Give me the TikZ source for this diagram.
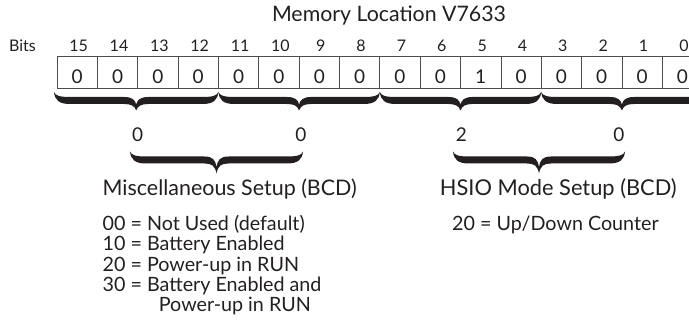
\documentclass[tikz,border=0pt]{standalone}
\usepackage{fontspec}
\setmainfont{Lato}
\usetikzlibrary{calc}
\definecolor{ink}{HTML}{231F20}
\newsavebox\measbox
% #1 left coordinate, #2 right coordinate, #3 depth of tip (pt)
\newcommand\cbrace[3]{%
\fill[ink] let \p1=(#1), \p2=(#2), \p3=($(#1)!0.5!(#2)$) in
 (\x1,\y1) .. controls (\x1+1.5pt,\y1-3.5pt) and (\x1+5pt,\y1-5pt) .. (\x1+16pt,\y1-5pt)
 -- (\x3-12pt,\y1-5pt) .. controls (\x3-4pt,\y1-5pt) and (\x3-1pt,\y1-8pt) .. (\x3,\y1-#3pt+6pt)
 .. controls (\x3+1pt,\y1-8pt) and (\x3+4pt,\y1-5pt) .. (\x3+12pt,\y1-5pt)
 -- (\x2-16pt,\y1-5pt) .. controls (\x2-5pt,\y1-5pt) and (\x2-1.5pt,\y1-3.5pt) .. (\x2,\y1)
 .. controls (\x2-0.8pt,\y1-8pt) and (\x2-5pt,\y1-12pt) .. (\x2-16pt,\y1-12pt)
 -- (\x3+12pt,\y1-12pt) .. controls (\x3+5pt,\y1-12pt) and (\x3+1.5pt,\y1-14pt) .. (\x3,\y1-#3pt)
 .. controls (\x3-1.5pt,\y1-14pt) and (\x3-5pt,\y1-12pt) .. (\x3-12pt,\y1-12pt)
 -- (\x1+16pt,\y1-12pt) .. controls (\x1+5pt,\y1-12pt) and (\x1+0.8pt,\y1-8pt) .. (\x1,\y1) -- cycle;
}
\begin{document}
% size of list text so that the first line is 202 pt wide
\sbox\measbox{\fontsize{10}{12}\selectfont 00 = Not Used (default)}%
\pgfmathsetmacro\listsize{10*202/\the\wd\measbox}%
\begin{tikzpicture}[x=1pt,y=-1pt,
  cell/.style={draw=black!70, line width=0.7pt, minimum width=40.35pt, minimum height=31.6pt, inner sep=0pt},
  celltxt/.style={anchor=base, text=ink, font=\fontsize{19}{20}\selectfont, inner sep=0pt},
  bitno/.style={anchor=base, text=ink, font=\fontsize{16}{18}\selectfont, inner sep=0pt},
  txt/.style={anchor=base, text=ink, font=\fontsize{20}{22}\selectfont, inner sep=0pt},
  listtxt/.style={anchor=base west, text=ink, font=\fontsize{\listsize}{20}\selectfont, inner sep=0pt},
]
\useasboundingbox (0,0) rectangle (689,326);
\clip (0,0) rectangle (689,326);
% title
\node[txt] (title) at (389,21.7) {\resizebox{234pt}{!}{Memory Location V7633}};
\node[bitno] (bits) at (22.5,51.7) {Bits};
% cells
\foreach \i in {0,...,15}{
  \pgfmathtruncatemacro{\b}{15-\i}
  \pgfmathsetmacro{\cx}{57+40.35*\i+20.175}
  \ifnum\b=5 \def\val{1}\else\def\val{0}\fi
  \node[cell] (c\b) at (\cx,72.6) {};
  \node[celltxt] (d\b) at (\cx,83.3) {\val};
  \node[bitno] (n\b) at (\cx+1.5,51.7) {\b};
}
% first-level braces
\coordinate (k0) at (54,92);
\foreach \k in {1,...,4}{
  \coordinate (k\k) at (57+161.4*\k,92);
}
\cbrace{k0}{k1}{18.5}
\cbrace{k1}{k2}{18.5}
\cbrace{k2}{k3}{18.5}
\cbrace{k3}{k4}{18.5}
% nibble digits
\node[celltxt] (g3) at (137.7,141.7) {0};
\node[celltxt] (g2) at (301.0,141.7) {0};
\node[celltxt] (g1) at (461.5,141.7) {2};
\node[celltxt] (g0) at (619.0,141.7) {0};
% second-level braces
\coordinate (m1) at (130,151.5);
\coordinate (m2) at (303,151.5);
\coordinate (h1) at (453,151.5);
\coordinate (h2) at (625,151.5);
\cbrace{m1}{m2}{22}
\cbrace{h1}{h2}{22}
% labels
\node[txt] (misc) at (229.7,196) {\resizebox{254pt}{!}{Miscellaneous Setup (BCD)}};
\node[txt] (hsio) at (558.3,196) {\resizebox{236.7pt}{!}{HSIO Mode Setup (BCD)}};
% lists
\node[listtxt] (l1) at (102.5,230.7) {00 = Not Used (default)};
\node[listtxt] (l2) at (102.5,251.0) {10 = Battery Enabled};
\node[listtxt] (l3) at (102.5,271.3) {20 = Power-up in RUN};
\node[listtxt] (l4) at (102.5,291.5) {30 = Battery Enabled and};
\node[listtxt] (l5) at (158.7,311.7) {Power-up in RUN};
\node[listtxt] (r1) at (452,230.7) {20 = Up/Down Counter};
\end{tikzpicture}
\end{document}
